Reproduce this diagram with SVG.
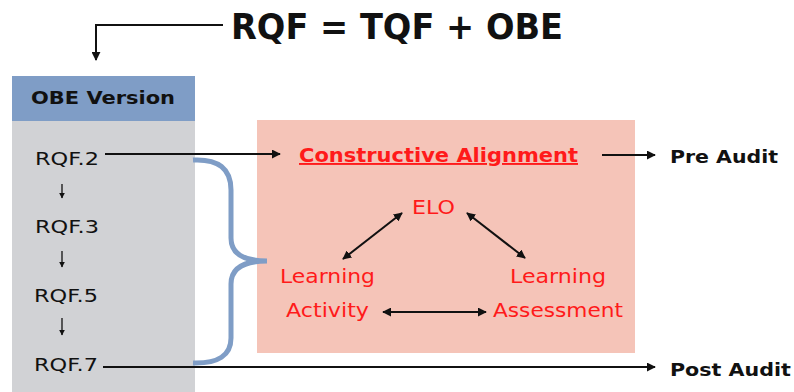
<svg xmlns="http://www.w3.org/2000/svg" width="794" height="392" viewBox="0 0 794 392">
<defs>
<style>
.t{font-family:"DejaVu Sans","Liberation Sans",sans-serif;}
.b{font-weight:bold;}
.k{fill:#111;}
.r{fill:#ff1a1a;}
.ln{stroke:#111;stroke-width:2;fill:none;}
</style>
<marker id="ah" viewBox="0 0 10 10" refX="9" refY="5" markerWidth="9" markerHeight="9" markerUnits="userSpaceOnUse" orient="auto-start-reverse">
<path d="M0,0 L10,5 L0,10 z" fill="#111"/>
</marker>
<marker id="sm" viewBox="0 0 10 10" refX="9" refY="5" markerWidth="6" markerHeight="6" markerUnits="userSpaceOnUse" orient="auto">
<path d="M0,0 L10,5 L0,10 z" fill="#111"/>
</marker>
</defs>
<rect width="794" height="392" fill="#fff"/>
<g id="title">
<text class="t b k" x="231" y="39" font-size="35" textLength="332" lengthAdjust="spacingAndGlyphs">RQF = TQF + OBE</text>
</g>
<g id="obe-version">
<rect x="12" y="76" width="183" height="316" fill="#d1d2d5"/>
<rect x="12" y="76" width="183" height="45" fill="#7f9dc6"/>
<text class="t b k" x="31" y="104" font-size="18" textLength="144" lengthAdjust="spacingAndGlyphs">OBE Version</text>
</g>
<g id="rqf2"><text class="t k" x="35" y="165" font-size="18.5" textLength="64" lengthAdjust="spacingAndGlyphs">RQF.2</text></g>
<g id="rqf3"><text class="t k" x="35" y="233" font-size="18.5" textLength="64" lengthAdjust="spacingAndGlyphs">RQF.3</text></g>
<g id="rqf5"><text class="t k" x="34" y="302" font-size="18.5" textLength="64" lengthAdjust="spacingAndGlyphs">RQF.5</text></g>
<g id="rqf7"><text class="t k" x="34" y="371" font-size="18.5" textLength="64" lengthAdjust="spacingAndGlyphs">RQF.7</text></g>
<g id="ca-box">
<rect x="257" y="120" width="378" height="233" fill="#f5c4b8"/>
</g>
<g id="constructive-alignment">
<text class="t b r" x="299" y="162" font-size="19" textLength="279" lengthAdjust="spacingAndGlyphs" text-decoration="underline">Constructive Alignment</text>
</g>
<g id="elo"><text class="t r" x="412" y="214" font-size="20" textLength="43" lengthAdjust="spacingAndGlyphs">ELO</text></g>
<g id="learning-activity">
<text class="t r" x="280" y="283" font-size="20" textLength="95" lengthAdjust="spacingAndGlyphs">Learning</text>
<text class="t r" x="286" y="317" font-size="20" textLength="83" lengthAdjust="spacingAndGlyphs">Activity</text>
</g>
<g id="learning-assessment">
<text class="t r" x="510" y="283" font-size="20" textLength="96" lengthAdjust="spacingAndGlyphs">Learning</text>
<text class="t r" x="493" y="317" font-size="20" textLength="130" lengthAdjust="spacingAndGlyphs">Assessment</text>
</g>
<g id="pre-audit"><text class="t b k" x="670" y="163" font-size="18" textLength="108" lengthAdjust="spacingAndGlyphs">Pre Audit</text></g>
<g id="post-audit"><text class="t b k" x="670" y="376" font-size="18" textLength="121" lengthAdjust="spacingAndGlyphs">Post Audit</text></g>
<g id="connectors">
<path class="ln" d="M223,25 H96 V60" marker-end="url(#ah)"/>
<path d="M62,184 V198" stroke="#111" stroke-width="1.3" fill="none" marker-end="url(#sm)"/>
<path d="M62,251 V267" stroke="#111" stroke-width="1.3" fill="none" marker-end="url(#sm)"/>
<path d="M62,318 V335" stroke="#111" stroke-width="1.3" fill="none" marker-end="url(#sm)"/>
<path class="ln" d="M105,154 H280" marker-end="url(#ah)"/>
<path class="ln" d="M602,155 H655" marker-end="url(#ah)"/>
<path class="ln" d="M103,367 H655" marker-end="url(#ah)"/>
<path class="ln" d="M402,213 L343,259" marker-start="url(#ah)" marker-end="url(#ah)"/>
<path class="ln" d="M467,213 L525,258" marker-start="url(#ah)" marker-end="url(#ah)"/>
<path class="ln" d="M383,312 H486" marker-start="url(#ah)" marker-end="url(#ah)"/>
<path d="M193,160 Q231,158 231,190 L231,238 Q231,261 267,261 Q231,261 231,284 L231,338 Q231,364 193,363" fill="none" stroke="#7f9dc6" stroke-width="5"/>
</g>
</svg>
